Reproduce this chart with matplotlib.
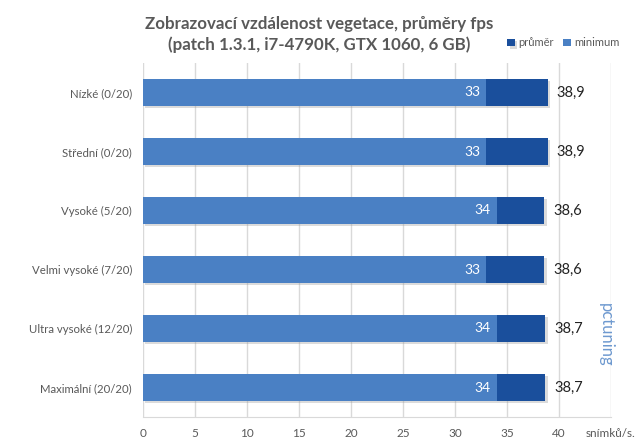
import matplotlib.pyplot as plt
import matplotlib.patheffects as pe

categories = ["Nízké (0/20)", "Střední (0/20)", "Vysoké (5/20)",
              "Velmi vysoké (7/20)", "Ultra vysoké (12/20)", "Maximální (20/20)"]
prumer = [38.9, 38.9, 38.6, 38.6, 38.7, 38.7]
minimum = [33, 33, 34, 33, 34, 34]

c_avg = "#1a4f9c"
c_min = "#4a80c4"
grey = "#595959"

plt.rcParams["font.family"] = ["Lato", "DejaVu Sans"]

fig = plt.figure(figsize=(6.39, 4.48), dpi=100)
ax = fig.add_axes([143 / 639, 1 - 417 / 448, (611 - 143) / 639, (417 - 63) / 448])

y = list(range(len(categories)))
shadow = [pe.SimplePatchShadow(offset=(1.5, -1.5), shadow_rgbFace="#999999", alpha=0.35), pe.Normal()]
b1 = ax.barh(y, prumer, height=0.47, color=c_avg, label="průměr", zorder=2)
b2 = ax.barh(y, minimum, height=0.47, color=c_min, label="minimum", zorder=3)
for b in b1:
    b.set_path_effects(shadow)

for i in y:
    ax.text(minimum[i] - 0.6, i, str(minimum[i]), ha="right", va="center",
            color="white", fontsize=10, zorder=4)
    ax.text(prumer[i] + 0.9, i, f"{prumer[i]:.1f}".replace(".", ","), ha="left",
            va="center", color="#222222", fontsize=10.5, zorder=4)

ax.set_xlim(0, 45)
ax.set_ylim(len(categories) - 0.5, -0.5)
ax.set_yticks(y)
ax.set_yticklabels(categories, color=grey, fontsize=8.2)
ax.set_xticks(range(0, 50, 5))
ax.set_xticklabels([str(v) for v in range(0, 45, 5)] + ["snímků/s."], color=grey, fontsize=8.5)
ax.tick_params(length=0, pad=8)
ax.tick_params(axis="y", pad=8)
ax.grid(axis="x", color="#d9d9d9", linewidth=1, zorder=0)
ax.set_axisbelow(True)
for s in ax.spines.values():
    s.set_visible(False)
ax.spines["bottom"].set_visible(True)
ax.spines["bottom"].set_color("#d9d9d9")

fig.text(0.5, 1 - 24 / 448, "Zobrazovací vzdálenost vegetace, průměry fps",
         ha="center", va="center", fontsize=12.2, fontweight="bold", color=grey)
fig.text(0.5, 1 - 45 / 448, "(patch 1.3.1, i7-4790K, GTX 1060, 6 GB)",
         ha="center", va="center", fontsize=12.2, fontweight="bold", color=grey)

fig.legend(handles=[b1, b2], loc="center right", bbox_to_anchor=(0.985, 1 - 43 / 448),
           ncol=2, frameon=False, fontsize=8, handlelength=0.7, handleheight=0.7,
           handletextpad=0.3, columnspacing=0.8, labelcolor=grey)

fig.text(606 / 639, 1 - 335 / 448, "pctuning", rotation=270, ha="center", va="center",
         fontsize=12, color="#4a80c4", alpha=0.8)

fig.savefig("out.png", dpi=100)
